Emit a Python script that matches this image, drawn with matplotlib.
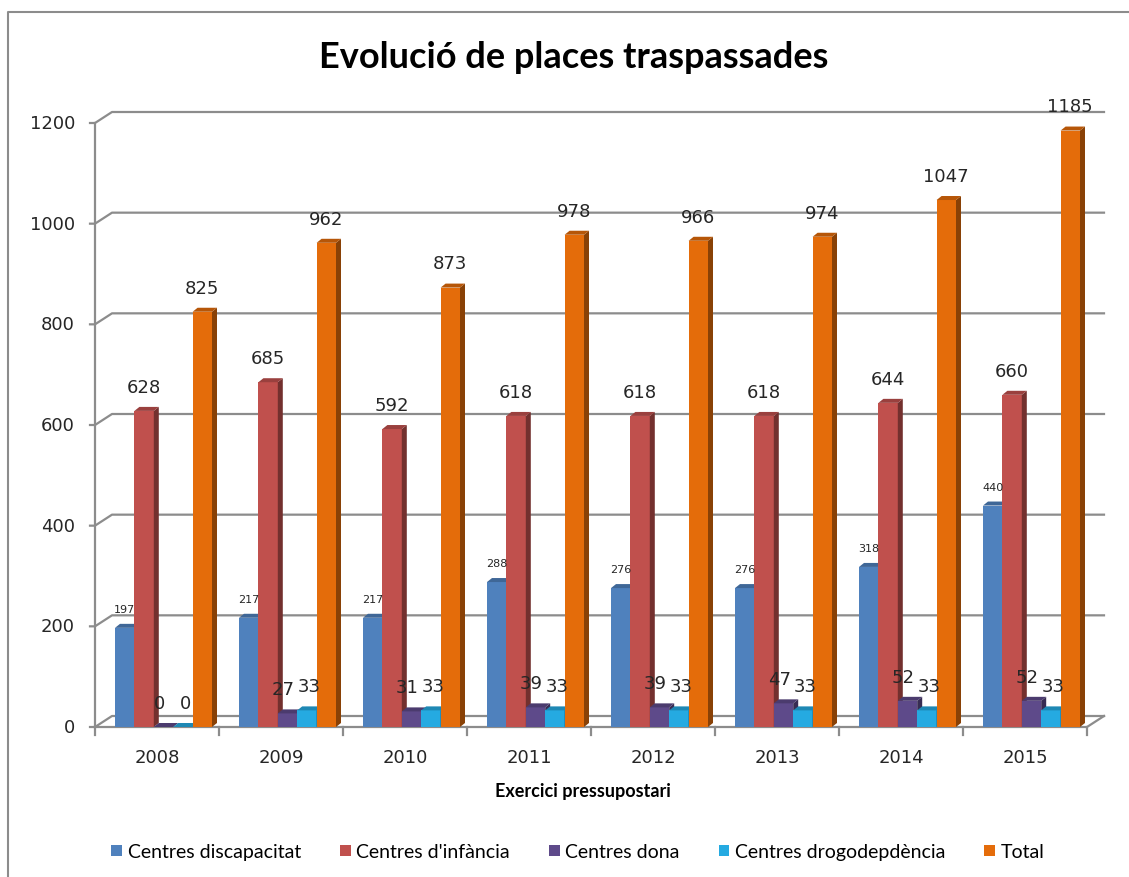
import matplotlib.pyplot as plt
from matplotlib.patches import Polygon, Patch
import matplotlib.colors as mcolors

years = ['2008', '2009', '2010', '2011', '2012', '2013', '2014', '2015']
series_names = ['Centres discapacitat', "Centres d'infància", 'Centres dona',
                'Centres drogodepdència', 'Total']
discapacitat = [197, 217, 217, 288, 276, 276, 318, 440]
infancia = [628, 685, 592, 618, 618, 618, 644, 660]
dona = [0, 27, 31, 39, 39, 47, 52, 52]
drogodep = [0, 33, 33, 33, 33, 33, 33, 33]
total = [825, 962, 873, 978, 966, 974, 1047, 1185]
yticks = [0, 200, 400, 600, 800, 1000, 1200]

series = [discapacitat, infancia, dona, drogodep, total]
colors = ['#4F81BD', '#C0504D', '#5E4A8A', '#25AAE1', '#E46C0A']

fig = plt.figure(figsize=(11.29, 8.78), dpi=100)
# axes: categories 0..8 -> px 95..1087, values 0..1200 -> px 728..124
ax = fig.add_axes([95 / 1129, 150 / 878, 992 / 1129, 604 / 878])
ax.set_xlim(0, 8)
ax.set_ylim(0, 1200)
ax.axis('off')

pxx = 8 / 992      # category units per pixel
pxy = 1200 / 604   # value units per pixel
wall_dx, wall_dy = 17 * pxx, 11 * pxy
grid_c = '#8C8C8C'

# gridlines on back wall + left side wall
for v in yticks:
    ax.plot([-5 * pxx, 0, wall_dx, 8 + wall_dx], [v, v, v + wall_dy, v + wall_dy],
            color=grid_c, lw=1.6, clip_on=False, zorder=1)
    ax.text(-20 * pxx, v, str(v), ha='right', va='center', fontsize=13,
            color='#262626', family='DejaVu Sans')
ax.plot([0, 0], [0, 1200], color=grid_c, lw=1.6, clip_on=False, zorder=1)
# floor front edge
ax.plot([0, 8, 8 + wall_dx], [0, 0, wall_dy], color=grid_c, lw=1.6,
        clip_on=False, zorder=1)
for k in range(9):
    ax.plot([k, k], [0, -8 * pxy], color=grid_c, lw=1.6, clip_on=False, zorder=1)
for i, y in enumerate(years):
    ax.text(i + 0.5, -30 * pxy, y, ha='center', va='center', fontsize=13,
            color='#262626', family='DejaVu Sans')

bw = 19.4 * pxx
off = 20 * pxx
ddx, ddy = 5 * pxx, 4 * pxy
label_dx = [0, 0, -3, 2, 0]   # small nudges, points


def shade(c, f):
    r, g, b = mcolors.to_rgb(c)
    return (r * f, g * f, b * f)


for i in range(len(years)):
    for s, (vals, c) in enumerate(zip(series, colors)):
        v = vals[i]
        x0 = i + off + s * bw
        z = 3 + i * 10 + s
        ax.add_patch(Polygon([(x0, 0), (x0 + bw, 0), (x0 + bw, v), (x0, v)],
                             closed=True, fc=c, ec='none', clip_on=False, zorder=z))
        ax.add_patch(Polygon([(x0 + bw, 0), (x0 + bw + ddx, ddy),
                              (x0 + bw + ddx, v + ddy), (x0 + bw, v)],
                             closed=True, fc=shade(c, 0.6), ec='none',
                             clip_on=False, zorder=z))
        ax.add_patch(Polygon([(x0, v), (x0 + ddx, v + ddy),
                              (x0 + bw + ddx, v + ddy), (x0 + bw, v)],
                             closed=True, fc=shade(c, 0.8), ec='none',
                             clip_on=False, zorder=z))
        small = s == 0
        ax.annotate(str(v), (x0 + bw / 2, v + ddy),
                    xytext=(label_dx[s], 7 if small else 8),
                    textcoords='offset points', ha='center', va='bottom',
                    fontsize=8 if small else 13, color='#262626',
                    family='DejaVu Sans', zorder=100, annotation_clip=False)

fig.text(574 / 1129, 1 - 57 / 878, 'Evolució de places traspassades',
         ha='center', va='center', fontsize=26, fontweight='bold', family='Lato')
fig.text(583 / 1129, 1 - 792 / 878, 'Exercici pressupostari', ha='center',
         va='center', fontsize=13, fontweight='bold', family='Lato')

handles = [Patch(facecolor=c, edgecolor='none') for c in colors]
fig.legend(handles, series_names, loc='center', bbox_to_anchor=(578 / 1129, 1 - 853 / 878),
           ncol=5, frameon=False, handlelength=0.55, handleheight=0.55,
           handletextpad=0.3, columnspacing=2.0,
           prop={'family': 'Lato', 'size': 14})

# outer chart frame (top and left edges visible)
fig.add_artist(plt.Line2D([8 / 1129, 8 / 1129, 1.0], [0.0, 1 - 13 / 878, 1 - 13 / 878],
                          transform=fig.transFigure, color='#8C8C8C', lw=1.5))

fig.savefig('out.png', dpi=100)
